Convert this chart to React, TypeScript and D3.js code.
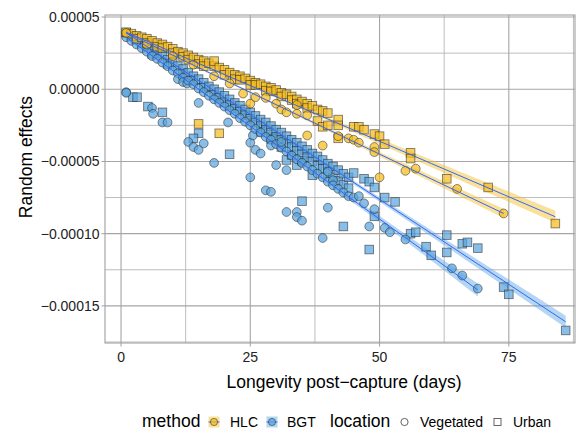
import React from "react";
import * as d3 from "d3";

// y values are in units of 1e-5
const hlcUrban: [number, number][] = [
  [1, 3.95], [2, 3.85], [3, 3.7], [3, 3.5], [4, 3.6], [5, 3.5], [5, 3.2], [6, 3.35], [7, 3.2], [7, 2.95],
  [8, 3.1], [8, 2.85], [9, 2.95], [10, 2.8], [10, 2.5], [11, 2.6], [12, 2.5], [12, 2.25], [13, 2.35],
  [13, 2.05], [14, 2.2], [15, 2.05], [15, 1.75], [16, 1.95], [16, 1.6], [17, 1.8], [18, 1.6], [18, 1.95],
  [19, 1.5], [20, 1.35], [20, 1.0], [21, 1.15], [22, 1.0], [22, 0.7], [23, 0.9], [23, 0.65], [24, 0.75],
  [25, 0.6], [25, 0.3], [26, 0.45], [26, 0.3], [27, 0.35], [28, 0.2], [28, -0.1], [29, 0.1], [29, -0.15],
  [30, -0.05], [31, -0.25], [31, -0.5], [32, -0.35], [33, -0.5], [33, -0.75], [34, -0.7], [34, -1.0],
  [35, -0.85], [36, -1.0], [36, -1.3], [37, -1.15],
  [38, -1.4], [38, -2.2], [39, -1.5], [39, -2.6], [40, -1.65], [40, -2.5], [42, -2.1], [42, -2.5],
  [42, -3.4], [45, -2.6], [46, -2.6], [47, -2.8], [49, -3.1], [50, -3.25], [51, -3.8], [56, -4.4],
  [56, -4.8], [63, -6.2], [71, -6.8], [84, -9.3], [15, -2.4], [19, -3.05],
];

const hlcVeg: [number, number][] = [
  [1, 3.9], [5, 3.1], [10, 2.3], [14, 1.7], [18, 0.9], [21, 0.4], [23.6, -0.3], [25, -1.0], [26, -0.55],
  [28, -0.6], [30, -1.0], [31, -1.4], [32, -1.6], [34, -1.1], [34, -1.7], [36, -1.8], [36, -3.2], [39, -3.9],
  [42, -3.25], [44, -3.4], [45, -3.5], [46, -3.7], [49, -4.0], [49, -4.35], [50, -6.1], [55, -5.65],
  [57, -5.5], [65, -6.9], [74, -8.6],
];

const bgtUrban: [number, number][] = [
  [1, 3.9], [2, 3.65], [3, 3.45], [4, 3.2], [5, 2.95], [6, 2.75], [6, 2.45], [7, 2.5], [8, 2.3], [9, 2.05],
  [9, 1.75], [10, 1.85], [11, 1.6], [12, 1.4], [12, 1.05], [13, 1.15], [14, 0.9], [14, 0.6], [15, 0.7],
  [16, 0.45], [16, 0.1], [17, 0.2], [18, 0.0], [18, -0.4], [19, -0.2], [19, -0.6], [20, -0.45], [20, -0.9],
  [21, -0.7], [21, -1.1], [22, -0.95], [22, -1.35], [23, -1.15], [23, -1.55], [24, -1.4], [24, -1.8],
  [25, -1.6], [25, -2.05], [26, -1.85], [26, -2.3], [27, -2.1], [27, -2.55], [27, -2.95], [28, -2.3],
  [28, -2.8], [29, -2.55], [29, -3.0], [29, -3.45], [30, -2.8], [30, -3.3], [31, -3.0], [31, -3.5],
  [31, -4.0], [32, -3.25], [32, -3.75], [32, -4.9], [33, -3.5], [33, -4.0], [33, -4.55], [34, -3.7],
  [34, -4.25], [34, -5.25], [35, -3.95], [35, -4.5], [35, -4.95], [36, -4.2], [36, -4.7], [37, -4.45],
  [37, -5.0], [37, -5.95], [38, -4.65], [38, -5.3], [39, -4.9], [39, -5.5], [40, -5.15], [40, -5.8],
  [41, -5.35], [41, -6.1], [42, -5.6], [42, -6.35], [43, -5.85], [43, -6.6], [44, -6.1], [44, -6.85],
  [45, -5.8], [47, -6.2], [48, -6.4], [49, -6.8], [51, -7.5], [53, -7.8], [35, -7.75], [43, -9.5],
  [48, -11.1], [49, -8.8], [56, -10.0], [57, -9.9], [59, -10.9], [60, -11.5], [63, -10.1], [63, -11.3],
  [66, -10.7], [67, -10.6], [69, -11.0], [74, -13.7], [75, -14.2], [86, -16.7],
  [2.3, -0.55], [3.1, -0.55], [5.2, -1.2], [8, -1.6], [15, -3.05], [14, -3.4], [21, -4.5],
];

const bgtVeg: [number, number][] = [
  [1, 3.6], [1, -0.2], [1, -0.25], [2, 3.35], [3, 3.1], [4, 2.85], [5, 2.6], [6, 2.3], [6, -1.3], [6.2, -1.7],
  [7, 2.1], [8, 1.85], [8, -2.3], [9, 1.6], [9, -2.3], [10, 1.3], [11, 1.1], [11, 0.7], [12, 0.8], [12, 0.5],
  [12.8, 0.4], [13, 0.6], [13, -3.65], [14, 0.35], [14, -4.0], [15, 0.05], [15, -0.95], [15, -4.2],
  [16, -0.2], [16, -3.75], [17, -0.45], [18, -0.7], [18, -5.1], [19, -0.95], [20, -1.2], [20.7, -2.3],
  [21, -1.45], [22, -1.7], [23, -2.0], [24, -2.25], [25, -2.5], [25, -3.7], [25, -6.1], [25.5, -3.2],
  [26, -2.75], [26, -4.2], [27, -3.0], [27, -4.45], [28, -3.3], [28, -7.0], [29, -3.5], [29, -3.9],
  [29, -7.1], [30, -3.8], [30, -5.25], [31, -4.05], [31, -3.65], [32, -4.3], [32, -5.6], [32, -8.5],
  [33, -4.6], [34, -4.85], [34, -8.5], [34, -8.85], [35, -5.1], [35, -9.1], [36, -5.35], [37, -5.6],
  [38, -5.85], [39, -6.1], [39, -10.3], [40, -6.4], [40, -5.7], [40, -8.2], [41, -6.3], [41, -6.65],
  [42, -6.9], [43, -7.15], [44, -7.4], [45, -7.5], [46, -7.4], [47, -7.9], [48, -9.5], [49, -8.3],
  [51, -9.6], [52, -9.9], [55, -10.4], [64, -12.4], [66, -12.9], [69, -13.8],
];

// fitted lines: [x, fit, half-width of ribbon]
const fitHlcUrban: [number, number, number][] = [[1, 3.95, 0.15], [20, 1.02, 0.07], [40, -2.06, 0.12], [60, -5.14, 0.26], [84, -8.83, 0.42]];
const fitHlcVeg: [number, number, number][] = [[1, 3.9, 0.15], [20, 0.64, 0.07], [40, -2.78, 0.12], [60, -6.21, 0.22], [74, -8.6, 0.32]];
const fitBgtUrban: [number, number, number][] = [[1, 3.9, 0.12], [20, -0.57, 0.06], [40, -5.28, 0.1], [60, -9.98, 0.22], [86, -16.1, 0.42]];
const fitBgtVeg: [number, number, number][] = [[1, 3.6, 0.12], [20, -1.28, 0.07], [40, -6.42, 0.16], [60, -11.56, 0.3], [69, -13.9, 0.45]];

const xTicks = [0, 25, 50, 75];
const xMinor = [12.5, 37.5, 62.5, 87.5];
const yTicks = [5, 0, -5, -10, -15];
const yTickLabels = ["0.00005", "0.00000", "\u22120.00005", "\u22120.00010", "\u22120.00015"];
const yMinor = [2.5, -2.5, -7.5, -12.5, -17.5];

const HLC = "#F5BC1E";
const BGT = "#5AA5DE";
const FONT = "'Liberation Sans', Arial, Helvetica, sans-serif";

export default function App() {
  const W = 587, H = 432;
  const left = 105, right = 575, top = 15, bottom = 343;
  const x = d3.scaleLinear().domain([-3.1, 87.8]).range([left, right]);
  const y = d3.scaleLinear().domain([-17.57, 5.14]).range([bottom, top]);

  const area = d3.area<[number, number, number]>()
    .x(d => x(d[0])).y0(d => y(d[1] - d[2])).y1(d => y(d[1] + d[2]))
    .curve(d3.curveMonotoneX);
  const line = d3.line<[number, number, number]>().x(d => x(d[0])).y(d => y(d[1]));

  const r = 4.4, s = 8.6;
  const ptStyle = { fillOpacity: 0.72, stroke: "#1a1a1a", strokeOpacity: 0.55, strokeWidth: 0.9 };

  const circles = (data: [number, number][], fill: string, k: string) =>
    data.map((d, i) => <circle key={k + i} cx={x(d[0])} cy={y(d[1])} r={r} fill={fill} {...ptStyle} />);
  const squares = (data: [number, number][], fill: string, k: string) =>
    data.map((d, i) => <rect key={k + i} x={x(d[0]) - s / 2} y={y(d[1]) - s / 2} width={s} height={s} fill={fill} {...ptStyle} />);

  const ribbons: [[number, number, number][], string][] = [
    [fitBgtUrban, BGT], [fitBgtVeg, BGT], [fitHlcUrban, HLC], [fitHlcVeg, HLC],
  ];

  return (
    <div style={{ position: "absolute", left: 0, top: 0 }}>
      <svg width={W} height={H} style={{ display: "block", background: "#fff" }} fontFamily={FONT}>
        <rect x={left} y={top} width={right - left} height={bottom - top} fill="#fff" />
        {xMinor.map(v => <line key={"xm" + v} x1={x(v)} x2={x(v)} y1={top} y2={bottom} stroke="#b5b5b5" strokeWidth={0.9} />)}
        {yMinor.map(v => <line key={"ym" + v} x1={left} x2={right} y1={y(v)} y2={y(v)} stroke="#b5b5b5" strokeWidth={0.9} />)}
        {xTicks.map(v => <line key={"xg" + v} x1={x(v)} x2={x(v)} y1={top} y2={bottom} stroke="#a6a6a6" strokeWidth={1.1} />)}
        {yTicks.map(v => <line key={"yg" + v} x1={left} x2={right} y1={y(v)} y2={y(v)} stroke="#a6a6a6" strokeWidth={1.1} />)}

        {ribbons.map(([f, c], i) => <path key={"rb" + i} d={area(f) || ""} fill={c} fillOpacity={0.45} />)}

        {squares(bgtUrban, BGT, "bu")}
        {circles(bgtVeg, BGT, "bv")}
        {squares(hlcUrban, HLC, "hu")}
        {circles(hlcVeg, HLC, "hv")}

        {ribbons.map(([f], i) => <path key={"ln" + i} d={line(f) || ""} fill="none" stroke="#3366FF" strokeWidth={1} />)}

        <rect x={left} y={top} width={right - left} height={bottom - top} fill="none" stroke="#a0a0a0" strokeWidth={1.1} />

        {xTicks.map(v => (
          <g key={"xt" + v}>
            <line x1={x(v)} x2={x(v)} y1={bottom} y2={bottom + 3.5} stroke="#a0a0a0" />
            <text x={x(v)} y={bottom + 19} textAnchor="middle" fontSize={14} fill="#222">{v}</text>
          </g>
        ))}
        {yTicks.map((v, i) => (
          <g key={"yt" + v}>
            <line x1={left - 3.5} x2={left} y1={y(v)} y2={y(v)} stroke="#a0a0a0" />
            <text x={left - 5.5} y={y(v) + 5} textAnchor="end" fontSize={14} fill="#222">{yTickLabels[i]}</text>
          </g>
        ))}

        <text x={(left + right) / 2 + 4} y={388} textAnchor="middle" fontSize={17.5} fill="#000">Longevity post{"\u2212"}capture (days)</text>
        <text transform="translate(32,157) rotate(-90)" textAnchor="middle" fontSize={17.5} fill="#000">Random effects</text>

        <g fontSize={14} fill="#000">
          <text x={142} y={427} fontSize={17.5}>method</text>
          <rect x={208.5} y={416.5} width={11} height={11} fill={HLC} fillOpacity={0.45} />
          <line x1={208.5} x2={219.5} y1={422} y2={422} stroke="#3366FF" strokeWidth={1} />
          <circle cx={214} cy={422} r={3.6} fill={HLC} {...ptStyle} />
          <text x={230} y={427}>HLC</text>
          <rect x={266.5} y={416.5} width={11} height={11} fill={BGT} fillOpacity={0.45} />
          <line x1={266.5} x2={277.5} y1={422} y2={422} stroke="#3366FF" strokeWidth={1} />
          <circle cx={272} cy={422} r={3.6} fill={BGT} {...ptStyle} />
          <text x={287} y={427}>BGT</text>
          <text x={330} y={427} fontSize={17.5}>location</text>
          <circle cx={404.5} cy={422} r={3.6} fill="none" stroke="#555" strokeWidth={0.9} />
          <text x={420} y={427}>Vegetated</text>
          <rect x={494} y={418.5} width={7} height={7} fill="none" stroke="#555" strokeWidth={0.9} />
          <text x={513} y={427}>Urban</text>
        </g>
      </svg>
    </div>
  );
}
